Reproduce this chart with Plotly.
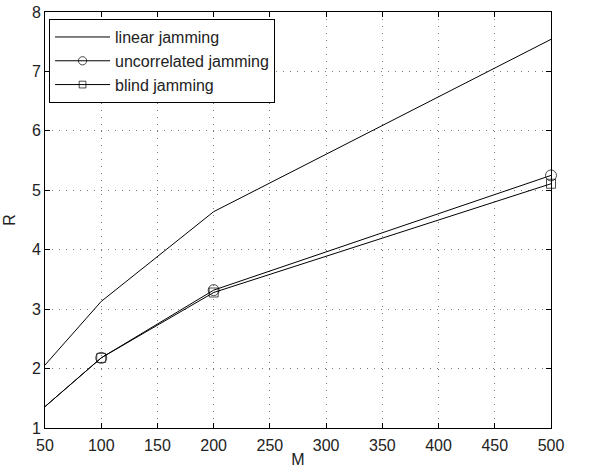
import plotly.graph_objects as go

M = [50, 100, 200, 500]
linear_jamming = [2.06, 3.13, 4.64, 7.54]
uncorrelated_jamming = [1.36, 2.18, 3.32, 5.25]
blind_jamming = [1.36, 2.18, 3.28, 5.11]
marker_sizes = [0, 11, 11, 11]
square_sizes = [0, 9, 9, 9]

x_ticks = [50, 100, 150, 200, 250, 300, 350, 400, 450, 500]
y_ticks = [1, 2, 3, 4, 5, 6, 7, 8]

FONT = "Liberation Sans, Arial, sans-serif"
FS = 16

fig = go.Figure()
fig.add_trace(go.Scatter(x=M, y=linear_jamming, mode="lines", name="linear jamming",
                         line=dict(color="black", width=1)))
fig.add_trace(go.Scatter(x=M, y=uncorrelated_jamming, mode="lines+markers", name="uncorrelated jamming",
                         line=dict(color="black", width=1), cliponaxis=False,
                         marker=dict(symbol="circle-open", size=marker_sizes, color="black",
                                     line=dict(width=1, color="black"))))
fig.add_trace(go.Scatter(x=M, y=blind_jamming, mode="lines+markers", name="blind jamming",
                         line=dict(color="black", width=1), cliponaxis=False,
                         marker=dict(symbol="square-open", size=square_sizes, color="black",
                                     line=dict(width=1, color="black"))))

axis_common = dict(
    showline=True, linecolor="black", linewidth=1, mirror="ticks",
    ticks="inside", ticklen=5, tickcolor="black", automargin=False,
    showgrid=True, gridcolor="#7a7a7a", griddash="1px,6px", gridwidth=1,
    zeroline=False, tickfont=dict(family=FONT, size=FS, color="#222"),
)

fig.update_xaxes(range=[50, 500], tickvals=x_ticks, ticklabelstandoff=3,
                 title=dict(text="M", font=dict(family=FONT, size=FS, color="#222"), standoff=0),
                 **axis_common)
fig.update_yaxes(range=[1, 8], tickvals=y_ticks,
                 title=dict(text="R", font=dict(family=FONT, size=FS, color="#222"), standoff=12),
                 **axis_common)

fig.update_layout(
    width=591, height=472,
    margin=dict(l=45, r=40, t=12, b=44),
    plot_bgcolor="white", paper_bgcolor="white",
    font=dict(family=FONT, size=FS, color="#222"),
    legend=dict(x=0.008, y=0.983, xanchor="left", yanchor="top",
                bgcolor="white", bordercolor="black", borderwidth=1,
                font=dict(family=FONT, size=FS, color="#222"),
                tracegroupgap=0, itemwidth=55),
    showlegend=True,
)

fig.write_html("out.html")
